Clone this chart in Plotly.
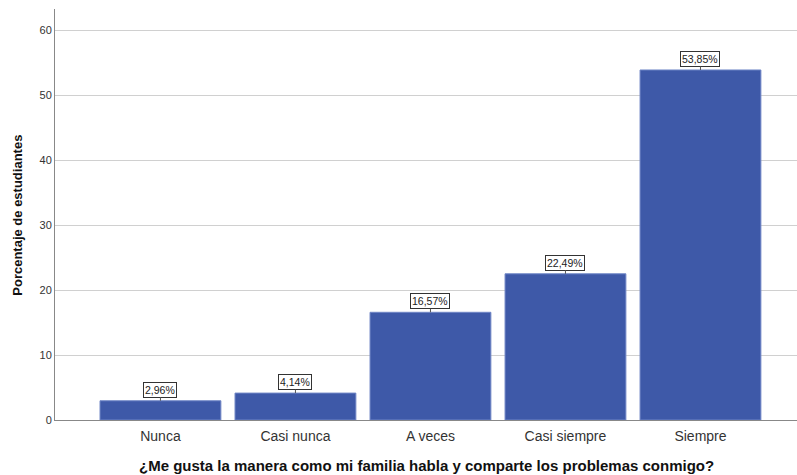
import plotly.graph_objects as go

categories = ["Nunca", "Casi nunca", "A veces", "Casi siempre", "Siempre"]
values = [2.96, 4.14, 16.57, 22.49, 53.85]
labels = ["2,96%", "4,14%", "16,57%", "22,49%", "53,85%"]
y_ticks = [0, 10, 20, 30, 40, 50, 60]

font_family = "Liberation Sans, Arial, sans-serif"

fig = go.Figure()
fig.add_trace(go.Bar(
    x=list(range(len(categories))),
    y=values,
    marker=dict(color="#3E59A8", line=dict(color="#6F86C6", width=1)),
    width=0.895,
    hoverinfo="skip",
))

for i, (v, lab) in enumerate(zip(values, labels)):
    fig.add_annotation(
        x=i, y=v, text=lab, showarrow=True, ax=0, ay=-11,
        arrowhead=0, arrowwidth=1, arrowcolor="#555555",
        bgcolor="white", bordercolor="#333333", borderwidth=1, borderpad=1,
        font=dict(family=font_family, size=10.5, color="#222222"),
    )

# axis titles as annotations for exact placement
fig.add_annotation(
    xref="paper", yref="paper", x=0.5, y=0, yshift=-45,
    xanchor="center", yanchor="middle", showarrow=False,
    text="<b>¿Me gusta la manera como mi familia habla y comparte los problemas conmigo?</b>",
    font=dict(family=font_family, size=15, color="#111111"),
)
fig.add_annotation(
    xref="paper", yref="paper", x=0, xshift=-37, y=0.497,
    xanchor="center", yanchor="middle", showarrow=False, textangle=-90,
    text="<b>Porcentaje de estudiantes</b>",
    font=dict(family=font_family, size=13, color="#111111"),
)

fig.update_layout(
    width=797, height=475,
    margin=dict(l=55, r=0, t=9, b=55, autoexpand=False),
    paper_bgcolor="white", plot_bgcolor="white",
    showlegend=False,
    font=dict(family=font_family, color="#222222"),
    xaxis=dict(
        range=[-0.781, 4.715],
        tickmode="array",
        tickvals=list(range(len(categories))),
        ticktext=categories,
        tickfont=dict(size=14, color="#333333"),
        showgrid=False, zeroline=False,
        showline=True, linecolor="#888888", linewidth=1,
        ticks="", automargin=False, ticklabelstandoff=3,
    ),
    yaxis=dict(
        range=[0, 63.23],
        tickmode="array",
        tickvals=y_ticks,
        tickfont=dict(size=11, color="#333333"),
        showgrid=True, gridcolor="#D0D0D0", gridwidth=1,
        zeroline=False,
        showline=True, linecolor="#888888", linewidth=1,
        ticks="", automargin=False,
    ),
)

fig.write_html("out.html", config={"displayModeBar": False},
               post_script="document.body.style.margin='0px';document.body.style.overflow='hidden';")
